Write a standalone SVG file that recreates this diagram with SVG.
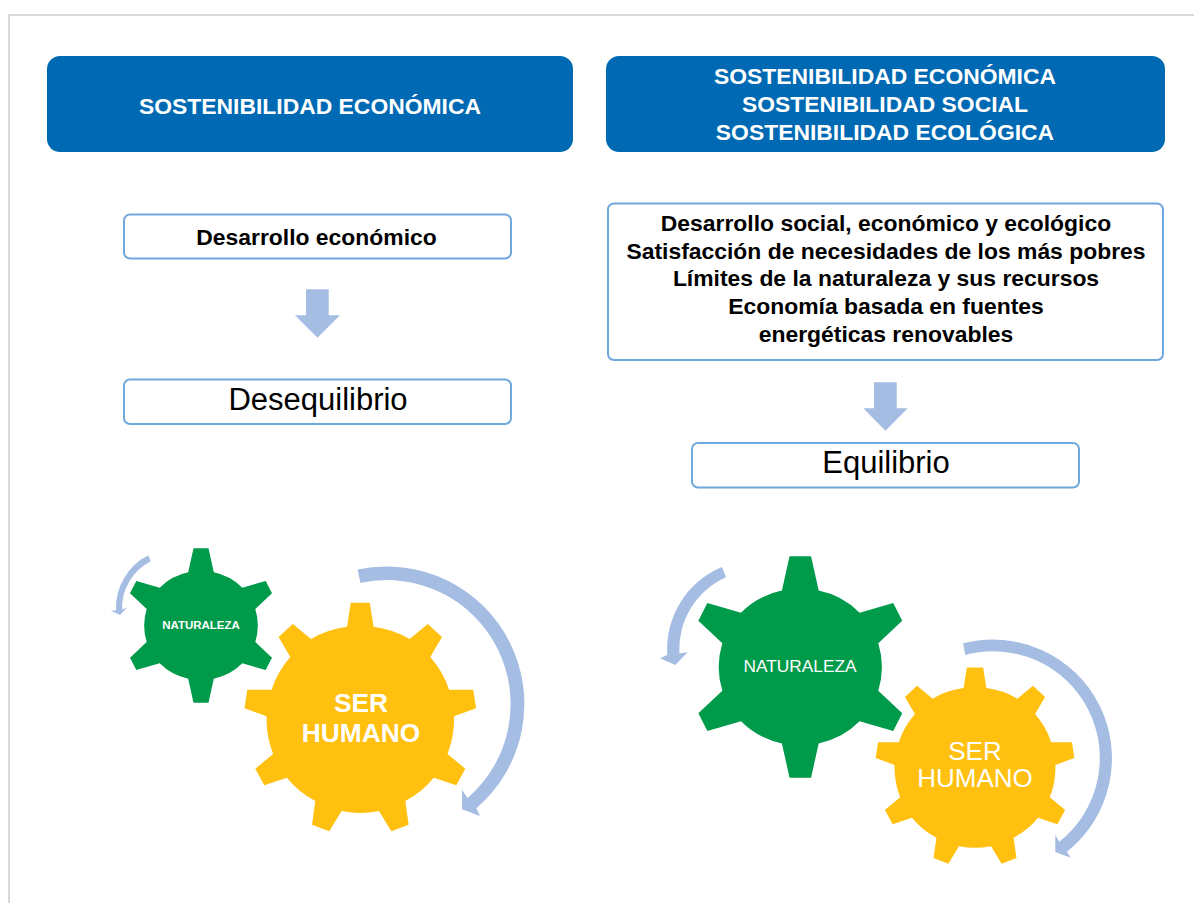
<svg xmlns="http://www.w3.org/2000/svg" width="1194" height="903" viewBox="0 0 1194 903">
<style>
text{font-family:"Liberation Sans",Arial,sans-serif;text-anchor:middle}
.hdr{fill:#0069b3}
.hdr-t{fill:#fff;font-weight:700;font-size:22.9px}
.box{fill:#fff;stroke:#6fa8dc;stroke-width:2}
.b{fill:#000;font-weight:700;font-size:22.9px}
.n{fill:#000;font-size:31px}
.ar{fill:#a6bde3}
.green{fill:#009a4b}
.yellow{fill:#ffc010}
.gt{fill:#fff}
</style>
<defs>
<path id="gear6" d="M-12.8,-53.2L-7.5,-77.2H7.5L12.8,-53.2A56 56 0 0 1 41.3,-37.8L64.7,-44.5L71,-32.2L54.3,-16.5A56 56 0 0 1 54.3,16.5L71,32.2L64.7,44.5L41.3,37.8A56 56 0 0 1 12.8,53.2L7.5,77.2H-7.5L-12.8,53.2A56 56 0 0 1 -41.3,37.8L-64.7,44.5L-71,32.2L-54.3,16.5A56 56 0 0 1 -54.3,-16.5L-71,-32.2L-64.7,-44.5L-41.3,-37.8A56 56 0 0 1 -12.8,-53.2Z"/>
<path id="gear9" d="M-13.3,-92.3L-9.5,-116.3H9.5L13.3,-92.3A94 94 0 0 1 49.3,-80L67.5,-95L81.7,-82L70,-62A94 94 0 0 1 88.8,-29.3H113L115.8,-10.7L93.7,-2.7A94 94 0 0 1 87.2,35L105,49.7L96,66.3L73.5,58.7A94 94 0 0 1 45,82L48.3,105.7L31,112.3L18.7,92A94 94 0 0 1 -18.7,92L-31,112.3L-48.3,105.7L-45,82A94 94 0 0 1 -73.5,58.7L-96,66.3L-105,49.7L-87.2,35A94 94 0 0 1 -93.7,-2.7L-115.8,-10.7L-113,-29.3H-88.8A94 94 0 0 1 -70,-62L-81.7,-82L-67.5,-95L-49.3,-80A94 94 0 0 1 -13.3,-92.3Z"/>
</defs>
<rect width="1194" height="903" fill="#fff"/>
<path d="M9,903V15H1194" fill="none" stroke="#d9d9d9" stroke-width="2"/>

<g id="header-left">
<rect class="hdr" x="47" y="56" width="526" height="96" rx="13"/>
<text class="hdr-t" x="310" y="114">SOSTENIBILIDAD ECONÓMICA</text>
</g>
<g id="header-right">
<rect class="hdr" x="606" y="56" width="559" height="96" rx="13"/>
<text class="hdr-t" x="885" y="83.5">SOSTENIBILIDAD ECONÓMICA</text>
<text class="hdr-t" x="885" y="111.5">SOSTENIBILIDAD SOCIAL</text>
<text class="hdr-t" x="885" y="139.5">SOSTENIBILIDAD ECOLÓGICA</text>
</g>
<g id="box-desarrollo">
<rect class="box" x="124" y="214.5" width="387" height="44" rx="6"/>
<text class="b" x="316.5" y="245">Desarrollo económico</text>
</g>
<g id="box-desequilibrio">
<rect class="box" x="124" y="379.5" width="387" height="44.5" rx="6"/>
<text class="n" x="318" y="409.5">Desequilibrio</text>
</g>
<g id="box-desarrollo-social">
<rect class="box" x="608" y="203.5" width="555" height="156.5" rx="6"/>
<text class="b" x="886" y="231">Desarrollo social, económico y ecológico</text>
<text class="b" x="886" y="259">Satisfacción de necesidades de los más pobres</text>
<text class="b" x="886" y="286">Límites de la naturaleza y sus recursos</text>
<text class="b" x="886" y="314">Economía basada en fuentes</text>
<text class="b" x="886" y="342">energéticas renovables</text>
</g>
<g id="box-equilibrio">
<rect class="box" x="692" y="443" width="387" height="44.5" rx="6"/>
<text class="n" x="886" y="473">Equilibrio</text>
</g>

<g id="connectors">
<path class="ar" d="M306,289.3H328.7V315.3H340L317.5,337.7L295,315.3H306Z"/>
<path class="ar" d="M874,382.3H896.7V408.3H907.7L885.5,430.7L863.3,408.3H874Z"/>
<path class="ar" d="M148.3,555.3A59 59 0 0 0 116,610.5L110.7,610.7L120,615L127.3,607.3L122,609.5A53 53 0 0 1 150.7,561.3Z"/>
<path class="ar" d="M357.6,569.6A137.5 137.5 0 0 1 476.4,808.3L480,816L462,809.3L462,790L467.7,797.9A124 124 0 0 0 360.4,582.9Z"/>
<path class="ar" d="M722,567A89 89 0 0 0 667.3,655L660,658.3L675.3,665L687.7,652.3L679.3,653.3A79 79 0 0 1 726,577.3Z"/>
<path class="ar" d="M963,643.3A119 119 0 0 1 1066.9,851.7L1070.7,857.7L1055.3,852L1055.3,834.7L1059.3,841.7A106.7 106.7 0 0 0 965.3,655Z"/>
</g>

<g id="gear-naturaleza-left">
<use href="#gear6" class="green" transform="translate(201 625.5)"/>
<text class="gt" x="201" y="629" font-size="11.5" font-weight="700">NATURALEZA</text>
</g>
<g id="gear-humano-left">
<use href="#gear9" class="yellow" transform="translate(360.3 719)"/>
<text class="gt" font-size="26.3" font-weight="700"><tspan x="361" y="712">SER</tspan><tspan x="361" y="742">HUMANO</tspan></text>
</g>
<g id="gear-naturaleza-right">
<use href="#gear6" class="green" transform="translate(800.3 667) scale(1.436)"/>
<text class="gt" x="800" y="671.5" font-size="17.3">NATURALEZA</text>
</g>
<g id="gear-humano-right">
<use href="#gear9" class="yellow" transform="translate(975 767.3) scale(.858)"/>
<text class="gt" font-size="26"><tspan x="975" y="760">SER</tspan><tspan x="975" y="787">HUMANO</tspan></text>
</g>
</svg>
